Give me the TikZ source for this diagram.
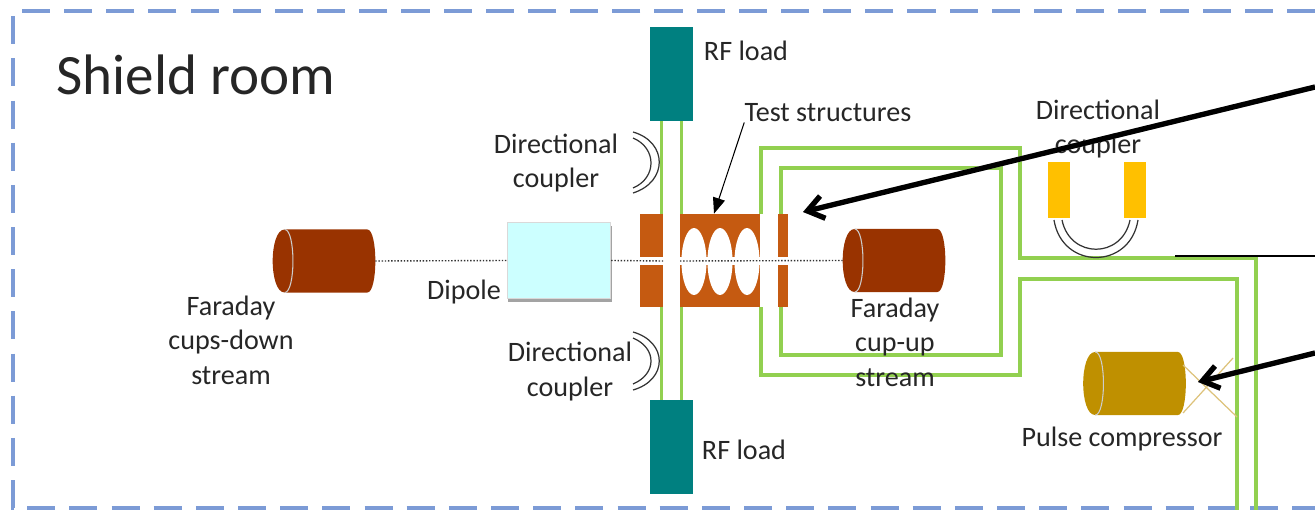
\documentclass[tikz,border=0pt]{standalone}
\usepackage{fontspec}
\setmainfont{Carlito}
\usetikzlibrary{arrows.meta,shadows}
\definecolor{roomblue}{HTML}{7C9BD6}
\definecolor{guidegreen}{HTML}{92D050}
\definecolor{loadteal}{HTML}{008080}
\definecolor{cupbrown}{HTML}{993300}
\definecolor{compgold}{HTML}{BF9000}
\definecolor{hornt}{HTML}{DDC27A}
\definecolor{cavorange}{HTML}{C55A11}
\definecolor{dipolecyan}{HTML}{CCFFFF}
\definecolor{coupamber}{HTML}{FFC000}
\tikzset{
	lbl/.style={font=\fontsize{16}{19.6}\selectfont, align=center, text=black!85, inner sep=0pt},
	guide/.style={color=guidegreen, line width=2pt},
	beam/.style={densely dotted, line width=0.8pt, color=black!80},
	rfload/.style={fill=loadteal, minimum width=24.5pt, minimum height=53pt, inner sep=0pt},
	couparm/.style={fill=coupamber, minimum width=12.5pt, minimum height=32pt, inner sep=0pt},
	cup/.style={inner sep=0pt, minimum width=58pt, minimum height=35.5pt},
	capline/.style={color=white!80!black, line width=0.6pt},
	ubend/.style={color=black!80, line width=0.7pt},
	bigarrow/.style={-{Straight Barb[length=9pt,width=13pt]}, line width=3pt, color=black}
}
\begin{document}
\begin{tikzpicture}[x=0.02cm, y=-0.02cm]
	\useasboundingbox (0,0) rectangle (1315,510);
	% room outline
	\draw[color=roomblue, line width=2pt, dash pattern=on 16pt off 8pt] (1315,11) -| (13,508) -- (1315,508);
	\node[lbl, font=\fontsize{32.5}{36}\selectfont, anchor=west] (room) at (56,75) {Shield room};

	% loads and test stand
	\node[rfload] (rfup) at (671.5,74) {};
	\node[rfload] (rfdown) at (671.5,447) {};
	\draw[guide] ([xshift=-0.2cm]rfup.south) -- ([xshift=-0.2cm]rfdown.north);
	\draw[guide] ([xshift=0.2cm]rfup.south) -- ([xshift=0.2cm]rfdown.north);
	\draw[guide] (761,214) |- (1020,148) |- (1256,258) -- (1256,510);
	\draw[guide] (781,214) |- (1001,168) |- (781,355) -- (781,307);
	\draw[guide] (761,307) |- (1020,375) |- (1237,279) -- (1237,510);
	\draw[line width=0.6pt] (1175,256) -- (1315,256);

	\node[fill=cavorange, minimum width=84.2pt, minimum height=52.9pt, inner sep=0pt] (teststruct) at (714,260.5) {};
	\fill[white] (663,214) rectangle (680,307);
	\fill[white] (760,214) rectangle (778,307);
	\fill[white] (640,257) rectangle (788,265);
	\foreach \cx in {694,720,747}
		\fill[white] (\cx,261.5) ellipse (12.5 and 33.5);

	\node[cup] (cupdown) at (324,261) {};
	\node[cup] (cupup) at (894,260.5) {};
	\node[cup] (compressor) at (1134.5,383.5) {};
	\foreach \c/\col in {cupdown/cupbrown,cupup/cupbrown,compressor/compgold} {
		\fill[\col] ([xshift=0.24cm]\c.north west) .. controls +(-16,0) and +(-16,0) .. ([xshift=0.24cm]\c.south west)
			-- ([xshift=-0.16cm]\c.south east) .. controls +(10.7,0) and +(10.7,0) .. ([xshift=-0.16cm]\c.north east) -- cycle;
		\draw[capline] ([xshift=0.24cm]\c.north west) .. controls +(11,0) and +(11,0) .. ([xshift=0.24cm]\c.south west);
	}

	\node[fill=dipolecyan, draw=black!15, line width=0.4pt, minimum width=59pt, minimum height=43.5pt, inner sep=0pt,
		drop shadow={shadow xshift=0.5pt, shadow yshift=-2pt, opacity=0.6, fill=black!60}] (dipole) at (559,260.5) {};
	\draw[beam] (cupdown.east) -- (dipole.west);
	\draw[beam] (dipole.east) -- (663,261);
	\draw[beam] (680,261) -- (cupup.west);

	% couplers on the load line
	\draw[ubend] (633,132) .. controls (668,142) and (668,182) .. (633,193);
	\draw[ubend] (633,138) .. controls (657,148) and (657,178) .. (633,188);
	\draw[ubend] (633,332) .. controls (668,342) and (668,380) .. (633,390);
	\draw[ubend] (633,338) .. controls (657,348) and (657,374) .. (633,384);

	% coupler on the feed
	\node[couparm] (armleft) at (1059,190) {};
	\node[couparm] (armright) at (1135,190) {};
	\draw[ubend] (1054,220) .. controls (1062,270) and (1130,270) .. (1138,220);
	\draw[ubend] (1062,220) .. controls (1070,259) and (1122,259) .. (1130,220);

	% compressor horns
	\draw[color=hornt, line width=0.7pt] (1183,365) -- (1237,417);
	\draw[color=hornt, line width=0.7pt] (1183,413) -- (1233,358);
	\coordinate (hornx) at (1198,382);

	% labels
	\node[lbl] (loadup) at (746,51) {RF load};
	\node[lbl] (loaddown) at (744,450) {RF load};
	\node[lbl] (testlabel) at (828,113) {Test structures};
	\node[lbl] (coupup) at (556,163) {Directional\\coupler};
	\node[lbl] (coupdown) at (570,371.5) {Directional\\coupler};
	\node[lbl] (coupfeed) at (1098,129) {Directional\\coupler};
	\node[lbl] (dipolelabel) at (464,292) {Dipole};
	\node[lbl] (downlabel) at (231,340) {Faraday\\cups-down\\stream};
	\node[lbl] (uplabel) at (895,342) {Faraday\\cup-up\\stream};
	\node[lbl] (complabel) at (1122,439) {Pulse compressor};

	% pointers
	\draw[-{Triangle[length=9pt,width=7pt]}, line width=0.6pt] (testlabel.south west) -- (teststruct.north);
	\coordinate (farA) at (1315,87);
	\coordinate (farB) at (1315,353);
	\coordinate (testtip) at (803,212);
	\draw[bigarrow, color=black!22, shift={(1,3)}] (farA) -- (testtip);
	\draw[bigarrow, color=black!22, shift={(1,3)}] (farB) -- (hornx);
	\draw[bigarrow] (farA) -- (testtip);
	\draw[bigarrow] (farB) -- (hornx);
\end{tikzpicture}
\end{document}
